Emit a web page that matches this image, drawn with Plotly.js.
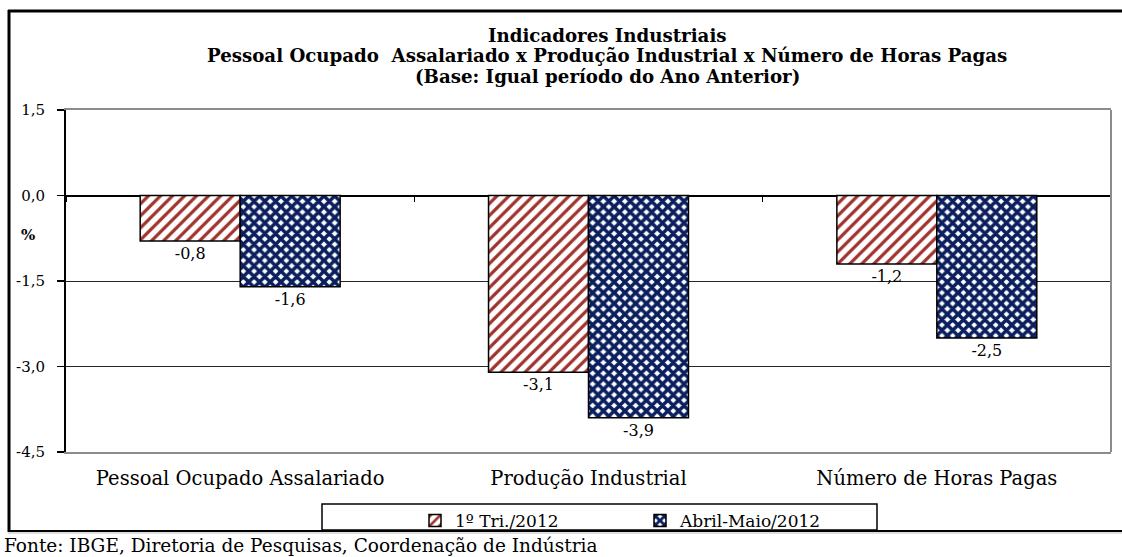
<!DOCTYPE html>
<html>
<head>
<meta charset="utf-8">
<script src="https://cdn.plot.ly/plotly-3.0.1.min.js"></script>
<style>
html,body{margin:0;padding:0;background:#fff;}
#chart{width:1122px;height:557px;}
</style>
</head>
<body>
<div id="chart"></div>
<script>
const categories = ['Pessoal Ocupado Assalariado', 'Produção Industrial', 'Número de Horas Pagas'];
const seriesNames = ['1º Tri./2012', 'Abril-Maio/2012'];
const tri1 = [-0.8, -3.1, -1.2];
const abrilMaio = [-1.6, -3.9, -2.5];
const yTickVals = [1.5, 0, -1.5, -3, -4.5];
const yTickText = ['1,5', '0,0', '-1,5', '-3,0', '-4,5'];
const titleLines = ['Indicadores Industriais', 'Pessoal Ocupado  Assalariado x Produção Industrial x Número de Horas Pagas', '(Base: Igual período do Ano Anterior)'];
const yUnit = '%';
const source = 'Fonte: IBGE, Diretoria de Pesquisas, Coordenação de Indústria';

const FONT = 'DejaVu Serif, Liberation Serif, serif';

function fmt(v) { return (v < 0 ? '-' : '') + Math.abs(v).toFixed(1).replace('.', ','); }

const traces = [
  {
    type: 'bar', name: seriesNames[0], x: categories, y: tri1,
    marker: {color: '#ffffff', line: {color: '#000000', width: 1.5},
      pattern: {shape: '/', fgcolor: '#a0332e', bgcolor: '#ffffff', size: 8.5, solidity: 0.38}},
    text: tri1.map(fmt), texttemplate: '%{text}', textposition: 'outside', cliponaxis: false,
    textfont: {family: FONT, size: 16, color: '#000'}, hoverinfo: 'skip'
  },
  {
    type: 'bar', name: seriesNames[1], x: categories, y: abrilMaio,
    marker: {color: '#ffffff', line: {color: '#000000', width: 1.5},
      pattern: {shape: 'x', fgcolor: '#0b1f5e', bgcolor: '#ffffff', size: 7.6, solidity: 0.72}},
    text: abrilMaio.map(fmt), texttemplate: '%{text}', textposition: 'outside', cliponaxis: false,
    textfont: {family: FONT, size: 16, color: '#000'}, hoverinfo: 'skip'
  },
  {
    type: 'scatter', mode: 'none', x: categories, y: categories.map(() => 0),
    xaxis: 'x2', yaxis: 'y', showlegend: false, hoverinfo: 'skip'
  }
];

function px2x(p) { return (p - 66) / 1045; }
function px2y(p) { return (452 - p) / 342; }

const titleY = [35, 56, 77];
const annotations = titleLines.map((t, i) => ({
  text: '<b>' + t + '</b>', xref: 'paper', yref: 'paper', x: px2x(607), y: px2y(titleY[i]),
  xanchor: 'center', yanchor: 'middle', showarrow: false,
  font: {family: FONT, size: 18.2, color: '#000'}
}));
annotations.push(
  {text: '<b>' + yUnit + '</b>', xref: 'paper', yref: 'paper', x: px2x(28), y: px2y(235),
   xanchor: 'center', yanchor: 'middle', showarrow: false, font: {family: FONT, size: 15, color: '#000'}},
  {text: source, xref: 'paper', yref: 'paper', x: px2x(2), y: px2y(545),
   xanchor: 'left', yanchor: 'middle', showarrow: false, font: {family: FONT, size: 18.5, color: '#000'}}
);

const layout = {
  width: 1122, height: 557,
  margin: {l: 66, r: 11, t: 110, b: 105, pad: 0},
  paper_bgcolor: '#fff', plot_bgcolor: '#fff',
  separators: ',.',
  font: {family: FONT, size: 14, color: '#000'},
  barmode: 'group', bargap: 0.426, bargroupgap: 0,
  xaxis: {
    type: 'category', showgrid: false, showline: true, linecolor: '#8c8c8c', linewidth: 2,
    mirror: true, ticks: '', ticklabelstandoff: 8,
    tickfont: {family: FONT, size: 19.5, color: '#000'}, zeroline: false, fixedrange: true
  },
  xaxis2: {
    type: 'category', overlaying: 'x', anchor: 'free', position: 0.75, side: 'bottom',
    tickson: 'boundaries', ticks: 'outside', ticklen: 5, tickwidth: 1.5, tickcolor: '#000',
    showticklabels: false, showline: false, showgrid: false, zeroline: false,
    categoryarray: categories, categoryorder: 'array', range: [-0.5, 2.5]
  },
  yaxis: {
    range: [-4.5, 1.5], tickvals: yTickVals, ticktext: yTickText,
    showgrid: true, gridcolor: '#262626', gridwidth: 1,
    zeroline: true, zerolinecolor: '#000', zerolinewidth: 2,
    showline: true, linecolor: '#000', linewidth: 2,
    ticks: 'outside', ticklen: 7, tickwidth: 1.5, tickcolor: '#000',
    ticklabelstandoff: 9,
    tickfont: {family: FONT, size: 15, color: '#000'}, fixedrange: true
  },
  showlegend: true,
  legend: {
    orientation: 'h', x: px2x(415), y: px2y(503), xanchor: 'left', yanchor: 'top',
    bgcolor: 'rgba(0,0,0,0)', borderwidth: 0,
    entrywidth: 180, entrywidthmode: 'pixels', itemwidth: 30,
    font: {family: FONT, size: 17, color: '#000'}, traceorder: 'normal'
  },
  shapes: [
    {type: 'line', xref: 'paper', yref: 'paper', x0: 1, x1: 1, y0: 0, y1: 1, line: {color: '#8c8c8c', width: 2}},
    {type: 'rect', xref: 'paper', yref: 'paper', x0: px2x(322), x1: px2x(877), y0: px2y(504), y1: px2y(530), line: {color: '#000', width: 1.5}},
    {type: 'line', xref: 'paper', yref: 'paper', x0: px2x(9), x1: px2x(9), y0: px2y(10), y1: px2y(532), line: {color: '#000', width: 3}},
    {type: 'line', xref: 'paper', yref: 'paper', x0: px2x(8), x1: px2x(1124), y0: px2y(11), y1: px2y(11), line: {color: '#000', width: 3}},
    {type: 'line', xref: 'paper', yref: 'paper', x0: px2x(8), x1: px2x(1124), y0: px2y(531), y1: px2y(531), line: {color: '#000', width: 2}},
    {type: 'line', xref: 'paper', yref: 'paper', x0: px2x(8), x1: px2x(1124), y0: px2y(533), y1: px2y(533), line: {color: '#bbbbbb', width: 1}}
  ],
  annotations: annotations
};

Plotly.newPlot('chart', traces, layout, {displayModeBar: false, staticPlot: true});
</script>
</body>
</html>
